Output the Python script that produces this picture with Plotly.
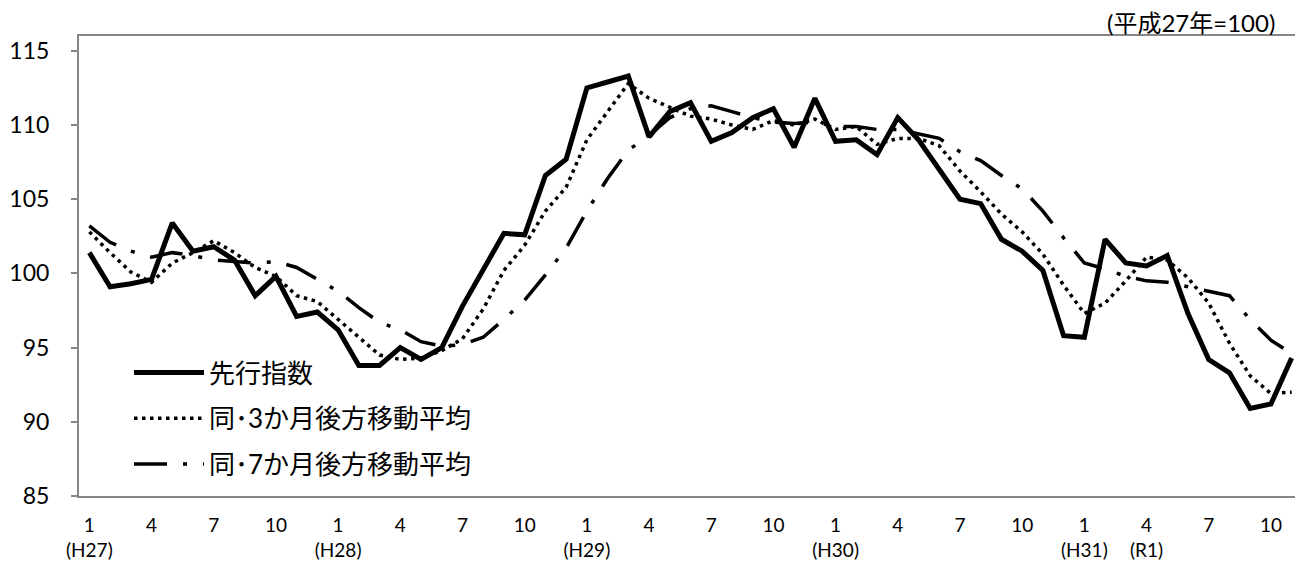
import plotly.graph_objects as go

# ---- data (Jan 2015 .. Nov 2019, monthly) ----
leading = [101.4, 99.1, 99.3, 99.6, 103.4, 101.5, 101.8, 100.9, 98.5, 99.8, 97.1, 97.4,
           96.2, 93.8, 93.8, 95.0, 94.2, 95.0, 97.8, 100.2, 102.7, 102.6, 106.6, 107.7,
           112.5, 112.9, 113.3, 109.2, 110.9, 111.5, 108.9, 109.5, 110.5, 111.1, 108.5, 111.8,
           108.9, 109.0, 108.0, 110.5, 109.0, 107.0, 105.0, 104.7, 102.3, 101.5, 100.2, 95.8,
           95.7, 102.3, 100.7, 100.5, 101.2, 97.3, 94.2, 93.3, 90.9, 91.2, 94.3]
ma3 = [102.8, 101.4, 100.1, 99.4, 100.7, 101.4, 102.2, 101.4, 100.4, 99.8, 98.5, 98.1,
       96.9, 95.7, 94.5, 94.2, 94.3, 94.8, 95.6, 97.6, 100.2, 101.9, 104.2, 105.8,
       109.0, 110.9, 112.8, 111.8, 111.2, 110.6, 110.4, 110.0, 109.7, 110.3, 110.0, 110.4,
       109.7, 109.9, 108.7, 109.1, 109.1, 108.6, 106.9, 105.5, 104.0, 102.8, 101.3, 99.2,
       97.3, 98.0, 99.5, 101.1, 100.9, 99.7, 98.0, 95.3, 93.1, 91.9, 92.0]
ma7 = [103.2, 102.1, 101.5, 101.1, 101.4, 101.2, 100.9, 100.8, 100.7, 100.8, 100.4, 99.6,
       98.8, 97.7, 96.7, 96.2, 95.4, 95.1, 95.2, 95.7, 96.9, 98.2, 99.9, 101.7,
       104.2, 106.4, 108.3, 109.3, 110.5, 111.1, 111.3, 110.9, 110.5, 110.2, 110.1, 110.2,
       109.9, 109.9, 109.7, 109.7, 109.4, 109.1, 108.2, 107.6, 106.6, 105.7, 104.2, 102.4,
       100.7, 100.3, 99.8, 99.5, 99.4, 99.1, 98.8, 98.5, 96.9, 95.5, 94.6]

series_names = ["先行指数", "同･3か月後方移動平均", "同･7か月後方移動平均"]

tick_months = [1, 4, 7, 10] * 5
tick_eras = ["(H27)", "", "", "", "(H28)", "", "", "", "(H29)", "", "", "",
             "(H30)", "", "", "", "(H31)", "(R1)", "", ""]
unit_label = "(平成27年=100)"

x = list(range(len(leading)))
tickvals = list(range(0, 3 * len(tick_months), 3))
ticktext = [f"{m}<br>{e}" if e else f"{m}" for m, e in zip(tick_months, tick_eras)]

FONT = "Lato, 'Noto Sans CJK JP', sans-serif"
W, H = 1295, 555
L, R, T, B = 71, 1, 28, 67

fig = go.Figure()
fig.add_trace(go.Scatter(x=x, y=leading, mode="lines", name=series_names[0],
                         legendgroup="a",
                         line=dict(color="black", width=5)))
fig.add_trace(go.Scatter(x=x, y=ma3, mode="lines", name=series_names[1],
                         legendgroup="b",
                         line=dict(color="black", width=3.5, dash="3.5px,4.5px")))
fig.add_trace(go.Scatter(x=x, y=ma7, mode="lines", name=series_names[2],
                         legendgroup="c",
                         line=dict(color="black", width=3.5, dash="33px,16px,4px,16px")))

fig.update_layout(
    width=W, height=H,
    margin=dict(l=L, r=R, t=T, b=B, autoexpand=False),
    paper_bgcolor="white", plot_bgcolor="white",
    font=dict(family=FONT, color="black"),
    showlegend=True,
    legend=dict(
        xref="container", yref="container",
        x=121 / W, y=1 - 341 / H, xanchor="left", yanchor="top",
        bgcolor="rgba(0,0,0,0)", borderwidth=0,
        font=dict(size=26, family=FONT),
        itemwidth=70, tracegroupgap=9,
    ),
    xaxis=dict(
        range=[-0.5, len(leading) - 0.5],
        tickmode="array", tickvals=tickvals, ticktext=ticktext,
        ticks="", showgrid=False, zeroline=False,
        showline=True, linecolor="#868686", linewidth=2, mirror=True,
        tickfont=dict(size=19, family=FONT),
        ticklabelstandoff=11,
        automargin=False,
    ),
    yaxis=dict(
        range=[85, 116], tickmode="linear", tick0=85, dtick=5,
        ticks="outside", ticklen=6, tickwidth=1.5, tickcolor="#868686",
        showgrid=False, zeroline=False,
        showline=True, linecolor="#868686", linewidth=2,
        tickfont=dict(size=23, family=FONT),
        ticklabelstandoff=17,
        automargin=False,
    ),
    shapes=[dict(type="line", xref="paper", yref="paper", x0=1, x1=1, y0=0, y1=1,
                 line=dict(color="#d0d0d0", width=1))],
    annotations=[dict(text=unit_label, xref="paper", yref="paper",
                      x=(1268 - L) / (W - L - R), y=1, xanchor="right", yanchor="bottom",
                      yshift=-2, borderpad=0, showarrow=False,
                      font=dict(size=24, family=FONT))],
)

fig.write_html("out.html")
